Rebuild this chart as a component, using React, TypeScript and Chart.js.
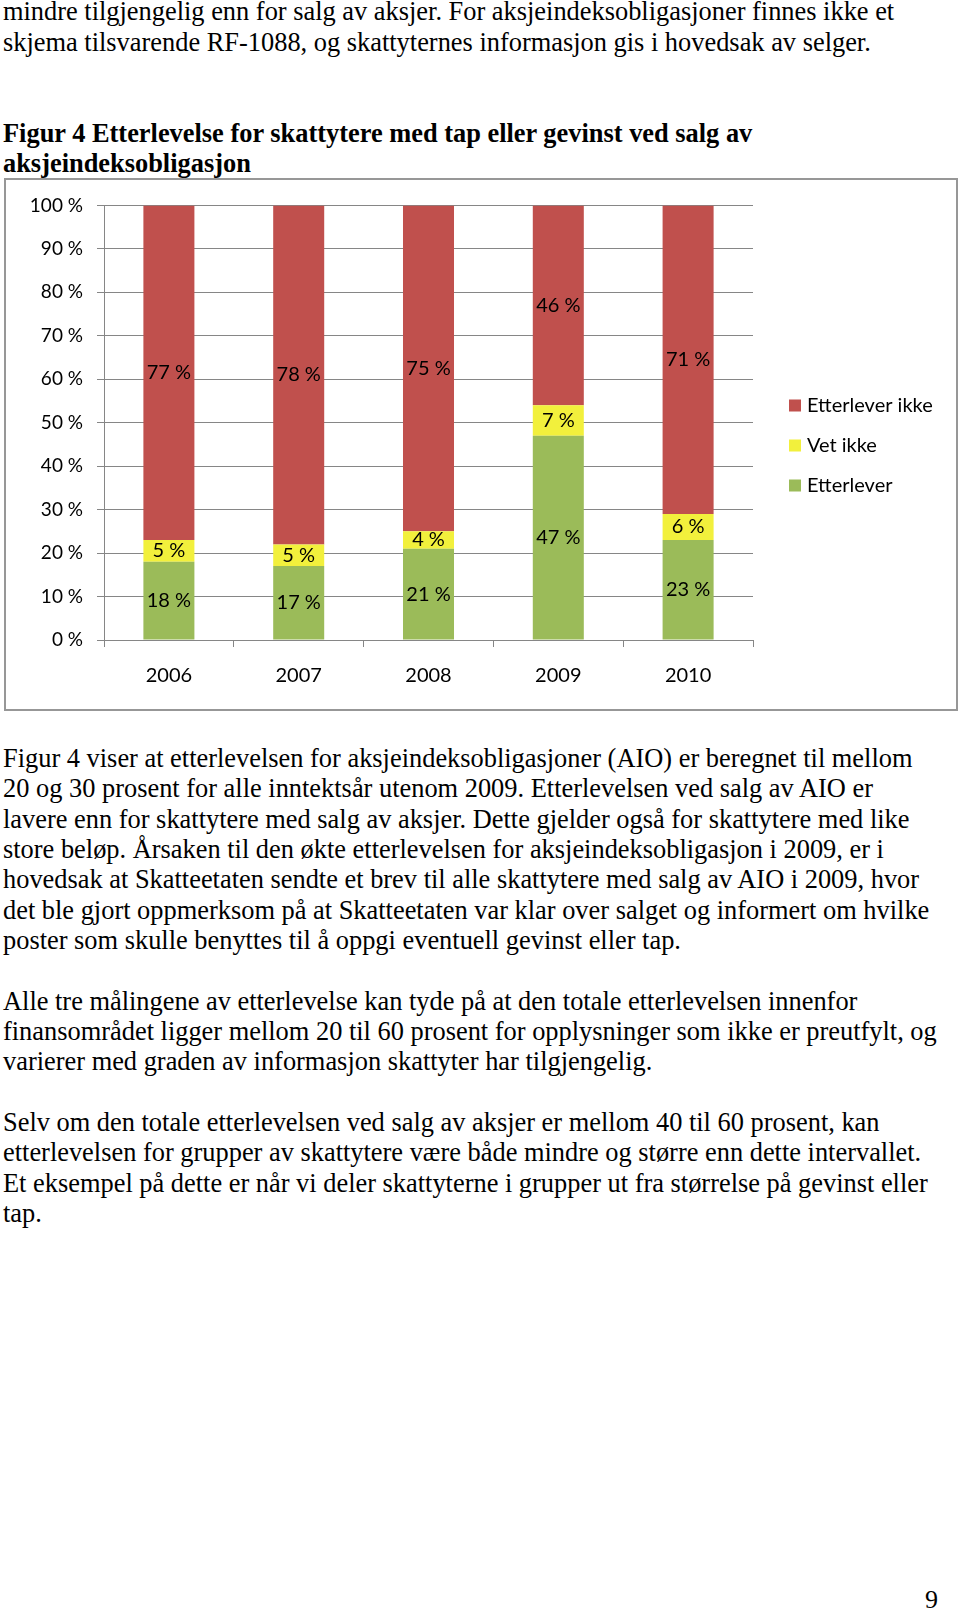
import React, { useEffect, useRef } from "react";
import { Chart, registerables } from "chart.js";

Chart.register(...registerables);

// ---- chart data ----
const categories = ["2006", "2007", "2008", "2009", "2010"];
const etterlever = [18, 17, 21, 47, 23];
const vetIkke = [5, 5, 4, 7, 6];
const etterleverIkke = [77, 78, 75, 46, 71];
const seriesNames = ["Etterlever", "Vet ikke", "Etterlever ikke"];
const seriesColors = ["#9BBB59", "#F2F03C", "#C0504D"];

// ---- page text ----
const introLines = [
  "mindre tilgjengelig enn for salg av aksjer. For aksjeindeksobligasjoner finnes ikke et",
  "skjema tilsvarende RF-1088, og skattyternes informasjon gis i hovedsak av selger.",
];
const headingLines = [
  "Figur 4 Etterlevelse for skattytere med tap eller gevinst ved salg av",
  "aksjeindeksobligasjon",
];
const bodyLines = [
  "Figur 4 viser at etterlevelsen for aksjeindeksobligasjoner (AIO) er beregnet til mellom",
  "20 og 30 prosent for alle inntektsår utenom 2009. Etterlevelsen ved salg av AIO er",
  "lavere enn for skattytere med salg av aksjer. Dette gjelder også for skattytere med like",
  "store beløp. Årsaken til den økte etterlevelsen for aksjeindeksobligasjon i 2009, er i",
  "hovedsak at Skatteetaten sendte et brev til alle skattytere med salg av AIO i 2009, hvor",
  "det ble gjort oppmerksom på at Skatteetaten var klar over salget og informert om hvilke",
  "poster som skulle benyttes til å oppgi eventuell gevinst eller tap.",
  "",
  "Alle tre målingene av etterlevelse kan tyde på at den totale etterlevelsen innenfor",
  "finansområdet ligger mellom 20 til 60 prosent for opplysninger som ikke er preutfylt, og",
  "varierer med graden av informasjon skattyter har tilgjengelig.",
  "",
  "Selv om den totale etterlevelsen ved salg av aksjer er mellom 40 til 60 prosent, kan",
  "etterlevelsen for grupper av skattytere være både mindre og større enn dette intervallet.",
  "Et eksempel på dette er når vi deler skattyterne i grupper ut fra størrelse på gevinst eller",
  "tap.",
];

const segLabelPlugin = {
  id: "segLabels",
  afterDatasetsDraw(chart: any) {
    const ctx = chart.ctx;
    ctx.save();
    ctx.font = "20px Lato";
    ctx.fillStyle = "#000";
    ctx.textAlign = "center";
    ctx.textBaseline = "middle";
    chart.data.datasets.forEach((ds: any, di: number) => {
      const meta = chart.getDatasetMeta(di);
      meta.data.forEach((bar: any, i: number) => {
        const p = bar.getProps(["x", "y", "base"], true);
        ctx.fillText(ds.data[i] + " %", p.x, (p.y + p.base) / 2);
      });
    });
    ctx.restore();
  },
};

// legend drawn to the right of the plot area, in reverse series order
const sideLegendPlugin = {
  id: "sideLegend",
  afterDraw(chart: any) {
    const ctx = chart.ctx;
    const area = chart.chartArea;
    const n = chart.data.datasets.length;
    const spacing = 40;
    const cy = chart.height / 2 + 1;
    const x0 = area.right + 36;
    ctx.save();
    ctx.font = "20px Lato";
    ctx.textAlign = "left";
    ctx.textBaseline = "middle";
    for (let k = 0; k < n; k++) {
      const di = n - 1 - k;
      const ds = chart.data.datasets[di];
      const y = cy + (k - (n - 1) / 2) * spacing;
      ctx.fillStyle = ds.backgroundColor;
      ctx.fillRect(x0, y - 6, 12, 12);
      ctx.fillStyle = "#000";
      ctx.fillText(ds.label, x0 + 18, y);
    }
    ctx.restore();
  },
};

function BarChart() {
  const ref = useRef<HTMLCanvasElement>(null);
  useEffect(() => {
    if (!ref.current) return;
    const values = [etterlever, vetIkke, etterleverIkke];
    const chart = new Chart(ref.current, {
      type: "bar",
      data: {
        labels: categories,
        datasets: values.map((v, i) => ({
          label: seriesNames[i],
          data: v,
          backgroundColor: seriesColors[i],
          borderWidth: 0,
          categoryPercentage: 1,
          barPercentage: 0.393,
        })),
      },
      options: {
        responsive: false,
        animation: false,
        layout: { padding: { top: 24, right: 203, bottom: 0, left: 0 } },
        font: { family: "Lato" },
        plugins: {
          tooltip: { enabled: false },
          legend: { display: false },
        },
        scales: {
          x: {
            stacked: true,
            grid: {
              offset: true,
              drawOnChartArea: false,
              tickLength: 7,
              color: "#868686",
            },
            border: { color: "#868686" },
            ticks: { color: "#000", padding: 17, font: { family: "Lato", size: 20 } },
            afterFit: (s: any) => {
              s.height = 69;
            },
          },
          y: {
            stacked: true,
            min: 0,
            max: 100,
            grid: { color: "#868686", tickLength: 7 },
            border: { color: "#868686" },
            ticks: {
              stepSize: 10,
              color: "#000",
              padding: 14,
              font: { family: "Lato", size: 19 },
              callback: (v: any) => v + " %",
            },
            afterFit: (s: any) => {
              s.width = 98;
            },
          },
        },
      } as any,
      plugins: [segLabelPlugin, sideLegendPlugin],
    });
    return () => chart.destroy();
  }, []);
  return <canvas ref={ref} width={950} height={529} />;
}

const serif = '"Liberation Serif", "Times New Roman", serif';

function Line({ text, baseline, size, bold, left }: any) {
  return (
    <div
      style={{
        position: "absolute",
        left: left ?? 3,
        top: baseline - size * 0.8375,
        fontFamily: serif,
        fontSize: size,
        lineHeight: size + "px",
        fontWeight: bold ? "bold" : "normal",
        whiteSpace: "pre",
        color: "#000",
      }}
    >
      {text}
    </div>
  );
}

const BODY = 26.4;
const LINE = 30.33;

export default function App() {
  return (
    <div
      style={{
        position: "absolute",
        left: 0,
        top: 0,
        width: 960,
        height: 1611,
        background: "#fff",
        overflow: "hidden",
      }}
    >
      {introLines.map((t, i) => (
        <Line key={"i" + i} text={t} baseline={20.5 + i * LINE} size={BODY} />
      ))}
      {headingLines.map((t, i) => (
        <Line key={"h" + i} text={t} baseline={142 + i * LINE} size={BODY} bold />
      ))}
      <div
        style={{
          position: "absolute",
          left: 4,
          top: 178,
          width: 954,
          height: 533,
          boxSizing: "border-box",
          border: "2px solid #979797",
        }}
      />
      <div style={{ position: "absolute", left: 6, top: 180, width: 950, height: 529 }}>
        <BarChart />
      </div>
      {bodyLines.map((t, i) => (
        <Line key={"b" + i} text={t} baseline={767 + i * LINE} size={BODY} />
      ))}
      <Line text="9" baseline={1609} size={26} left={925} />
    </div>
  );
}
